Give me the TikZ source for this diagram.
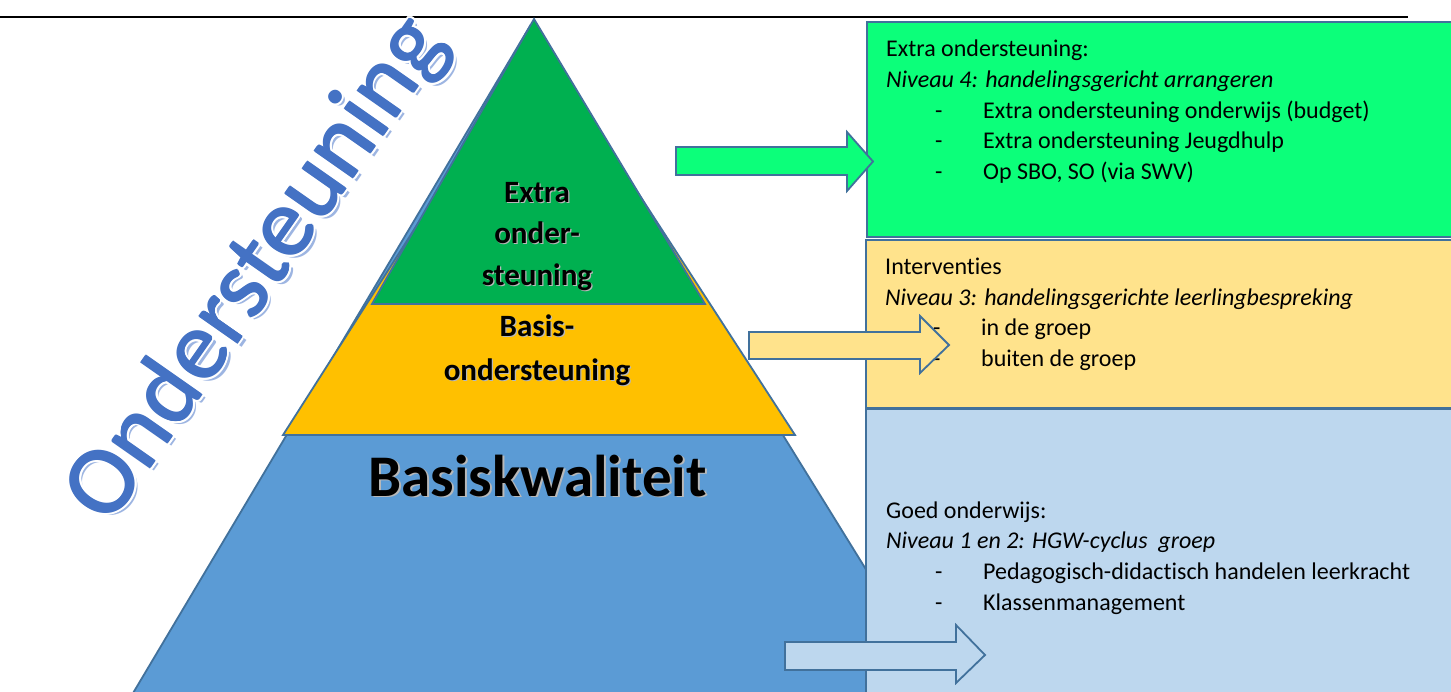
\documentclass[tikz,border=0pt]{standalone}
\usepackage{fontspec}
\setmainfont{Carlito}[Ligatures=NoCommon]
\definecolor{edgeblue}{HTML}{41719C}
\definecolor{pyrblue}{HTML}{5B9BD5}
\definecolor{pyryellow}{HTML}{FFC000}
\definecolor{pyrgreen}{HTML}{00B050}
\definecolor{boxgreen}{RGB}{12,255,122}
\definecolor{boxyellow}{HTML}{FFE38C}
\definecolor{boxblue}{HTML}{BDD7EE}
\definecolor{wordblue}{HTML}{4472C4}
\definecolor{wordshadow}{HTML}{9DB5E2}
\begin{document}
\begin{tikzpicture}[x=1pt,y=-1pt,
  shapeline/.style={draw=edgeblue,line width=1.8pt,line join=miter},
  boxtext/.style={anchor=base west,inner sep=0pt,font=\fontsize{24}{30}\selectfont},
  boxital/.style={boxtext,font=\fontsize{24}{30}\selectfont\itshape},
  pyrlabel/.style={anchor=base,inner sep=0pt,font=\fontsize{31}{36}\selectfont\bfseries},
  pyrshadow/.style={pyrlabel,text=black!28},
  bigword/.style={inner sep=0pt,rotate=55,font=\fontsize{98}{100}\selectfont}
]
\useasboundingbox (0,0) rectangle (1451,691);
\fill[white] (0,0) rectangle (1451,691);

% top rule
\coordinate (rl) at (0,17);
\coordinate (rr) at (1408,17);
\draw[line width=2pt] (rl) -- (rr);

% pyramid layers
\filldraw[shapeline,fill=pyrblue] (530,26) -- (120,715) -- (956,715) -- cycle;
\filldraw[shapeline,fill=pyryellow] (537,37) -- (283,435) -- (795,435) -- cycle;
\filldraw[shapeline,fill=pyrgreen] (534,19) -- (372,304) -- (705,304) -- cycle;

% pyramid labels (with soft shadow)
\foreach \t/\yy/\n in {Extra/202/a,onder-/243/b,steuning/285/c,Basis-/336/d,ondersteuning/380/e}{
  \node[pyrshadow] (s\n) at (538.2,\yy+1.2) {\t};
  \node[pyrlabel] (l\n) at (537,\yy) {\t};
}
\node[anchor=base,inner sep=0pt,text=black!28,font=\fontsize{59}{62}\selectfont\bfseries] (bkshadow) at (539.5,497.5) {Basiskwaliteit};
\node[anchor=base,inner sep=0pt,font=\fontsize{59}{62}\selectfont\bfseries] (bk) at (537.5,496) {Basiskwaliteit};

% boxes
\filldraw[shapeline,fill=boxgreen] (867,22) rectangle (1470,237);
\filldraw[shapeline,fill=boxyellow] (866,240) rectangle (1470,408);
\filldraw[shapeline,fill=boxblue] (866,409) rectangle (1470,710);

% green box text
\node[boxtext] (g1) at (886,56) {Extra ondersteuning:};
\node[boxital] (g2) at (886,87) {Niveau 4: handelingsgericht arrangeren};
\node[boxtext] (g3d) at (935,118) {-};
\node[boxtext] (g3) at (983,118) {Extra ondersteuning onderwijs (budget)};
\node[boxtext] (g4d) at (935,148) {-};
\node[boxtext] (g4) at (983,148) {Extra ondersteuning Jeugdhulp};
\node[boxtext] (g5d) at (935,179) {-};
\node[boxtext] (g5) at (983,179) {Op SBO, SO (via SWV)};

% yellow box text
\node[boxtext] (y1) at (885,274) {Interventies};
\node[boxital] (y2) at (885,305) {Niveau 3: handelingsgerichte leerlingbespreking};
\node[boxtext] (y3d) at (933,335) {-};
\node[boxtext] (y3) at (981,335) {in de groep};
\node[boxtext] (y4d) at (933,366) {-};
\node[boxtext] (y4) at (981,366) {buiten de groep};

% blue box text
\node[boxtext] (b1) at (886,518) {Goed onderwijs:};
\node[boxital] (b2) at (886,548) {Niveau 1 en 2: HGW-cyclus\ \ groep};
\node[boxtext] (b3d) at (935,579) {-};
\node[boxtext] (b3) at (983,579) {Pedagogisch-didactisch handelen leerkracht};
\node[boxtext] (b4d) at (935,610) {-};
\node[boxtext] (b4) at (983,610) {Klassenmanagement};

% block arrows
\filldraw[shapeline,fill=boxgreen] (676,147) -- (847,147) -- (847,132) -- (873,161.5) -- (847,191) -- (847,175) -- (676,175) -- cycle;
\filldraw[shapeline,fill=boxyellow] (749,332) -- (920,332) -- (920,316) -- (949,345) -- (920,373) -- (920,359) -- (749,359) -- cycle;
\filldraw[shapeline,fill=boxblue] (785,642) -- (956,642) -- (956,625) -- (985,655) -- (956,683) -- (956,670) -- (785,670) -- cycle;

% WordArt "Ondersteuning": shadow, white outline, blue letters
\coordinate (wc) at (258,270);
\path (wc) ++(4,3.5) node[bigword,text=wordshadow] (wshadow) {Ondersteuning};
\foreach \a in {0,22.5,...,337.5}{
  \path (wc) ++(\a:2.8) node[bigword,text=white] {Ondersteuning};
}
\foreach \a in {0,90,180,270}{
  \path (wc) ++(\a:0.9) node[bigword,text=wordblue] {Ondersteuning};
}
\node[bigword,text=wordblue] (word) at (wc) {Ondersteuning};
\end{tikzpicture}
\end{document}
